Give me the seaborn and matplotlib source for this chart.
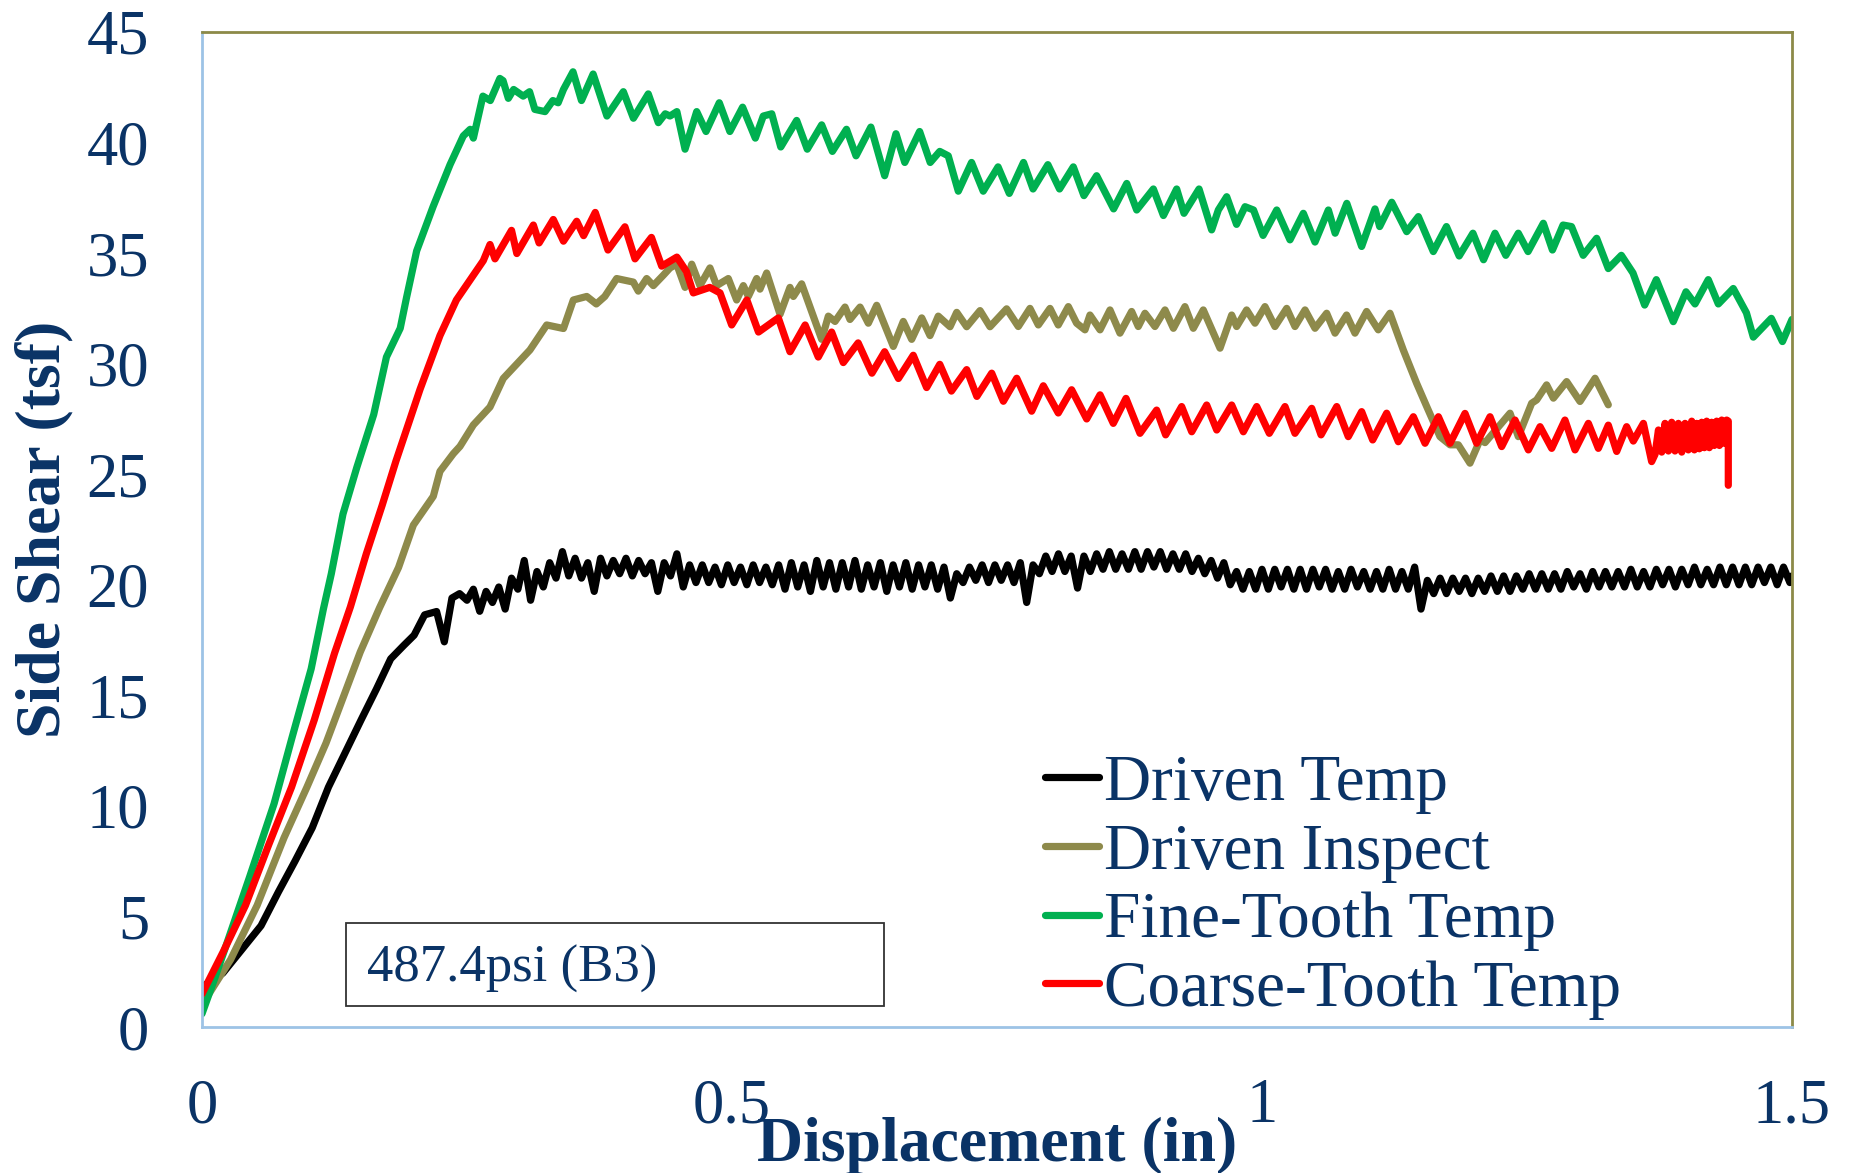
import matplotlib
matplotlib.use("Agg")
import matplotlib.pyplot as plt
import pandas as pd
import seaborn as sns
from matplotlib.patches import Rectangle

# ---------------------------------------------------------------- data
series_names = ["Driven Temp", "Driven Inspect", "Fine-Tooth Temp", "Coarse-Tooth Temp"]
series_colors = ["#000000", "#8E8A4B", "#00B050", "#FF0000"]

x_ticks = [0, 0.5, 1, 1.5]
x_tick_labels = ["0", "0.5", "1", "1.5"]
y_ticks = [0, 5, 10, 15, 20, 25, 30, 35, 40, 45]
y_tick_labels = ["0", "5", "10", "15", "20", "25", "30", "35", "40", "45"]

annotation_text = "487.4psi (B3)"

driven_temp_x = [
    0.0, 0.0197, 0.0377, 0.0557, 0.0721, 0.0875, 0.104, 0.1193, 0.1347, 0.1502,
    0.1645, 0.178, 0.1904, 0.2001, 0.21, 0.2213, 0.2286, 0.2358, 0.243,
    0.250, 0.256, 0.262, 0.268, 0.274, 0.280, 0.286, 0.292, 0.298, 0.304,
    0.310, 0.316, 0.322, 0.328, 0.334, 0.340, 0.346, 0.352, 0.358, 0.364,
    0.370, 0.376, 0.382, 0.388, 0.394, 0.400, 0.406, 0.412, 0.418, 0.424,
    0.430, 0.436, 0.442, 0.448, 0.454, 0.460, 0.466, 0.472, 0.478, 0.484,
    0.490, 0.496, 0.502, 0.508, 0.514, 0.520, 0.526, 0.532, 0.538, 0.544,
    0.550, 0.556, 0.562, 0.568, 0.574, 0.580, 0.586, 0.592, 0.598, 0.604,
    0.610, 0.616, 0.622, 0.628, 0.634, 0.640, 0.646, 0.652, 0.658, 0.664,
    0.670, 0.676, 0.682, 0.688, 0.694, 0.700, 0.706, 0.712, 0.718, 0.724,
    0.730, 0.736, 0.742, 0.748, 0.754, 0.760, 0.766, 0.772, 0.778, 0.784,
    0.790, 0.796, 0.802, 0.808, 0.814, 0.820, 0.826, 0.832, 0.838, 0.844,
    0.850, 0.856, 0.862, 0.868, 0.874, 0.880, 0.886, 0.892, 0.898, 0.904,
    0.910, 0.916, 0.922, 0.928, 0.934, 0.940, 0.946, 0.952, 0.958, 0.964,
    0.970, 0.976, 0.982, 0.988, 0.994, 1.000, 1.006, 1.012, 1.018, 1.024,
    1.030, 1.036, 1.042, 1.048, 1.054, 1.060, 1.066, 1.072, 1.078, 1.084,
    1.090, 1.096, 1.102, 1.108, 1.114, 1.120, 1.126, 1.132, 1.138, 1.144,
    1.150, 1.156, 1.162, 1.168, 1.174, 1.180, 1.186, 1.192, 1.198, 1.204,
    1.210, 1.216, 1.222, 1.228, 1.234, 1.240, 1.246, 1.252, 1.258, 1.264,
    1.270, 1.276, 1.282, 1.288, 1.294, 1.300, 1.306, 1.312, 1.318, 1.324,
    1.330, 1.336, 1.342, 1.348, 1.354, 1.360, 1.366, 1.372, 1.378, 1.384,
    1.390, 1.396, 1.402, 1.408, 1.414, 1.420, 1.426, 1.432, 1.438, 1.444,
    1.450, 1.456, 1.462, 1.468, 1.474, 1.480, 1.486, 1.492, 1.498, 1.500,
]
driven_temp_y = [
    1.8, 2.44, 3.51, 4.58, 6.11, 7.48, 9.01, 10.85, 12.37, 13.9,
    15.28, 16.65, 17.26, 17.72, 18.64, 18.79, 17.42, 19.4, 19.6,
    19.3, 19.8, 18.8, 19.7, 19.2, 19.9, 18.9, 20.3, 19.8, 21.1,
    19.3, 20.6, 19.9, 21.0, 20.3, 21.5, 20.4, 21.2, 20.3, 21.0,
    19.7, 21.2, 20.4, 21.1, 20.5, 21.2, 20.4, 21.1, 20.5, 21.0,
    19.7, 21.0, 20.4, 21.4, 19.9, 20.9, 20.1, 20.9, 20.1, 20.8,
    20.0, 20.9, 20.1, 20.8, 20.0, 20.9, 20.1, 20.8, 20.0, 20.9,
    19.8, 21.0, 19.9, 20.9, 19.7, 21.1, 19.9, 21.0, 19.8, 21.0,
    19.9, 21.1, 19.8, 20.9, 19.9, 21.0, 19.7, 20.9, 19.9, 21.0,
    19.8, 20.9, 19.9, 20.9, 19.8, 20.8, 19.4, 20.5, 20.1, 20.8,
    20.2, 20.9, 20.1, 20.9, 20.2, 20.9, 20.1, 21.0, 19.2, 20.9,
    20.5, 21.3, 20.6, 21.4, 20.6, 21.3, 19.85, 21.3, 20.6, 21.4,
    20.7, 21.5, 20.7, 21.4, 20.7, 21.5, 20.7, 21.5, 20.8, 21.5,
    20.7, 21.4, 20.7, 21.4, 20.6, 21.2, 20.5, 21.1, 20.3, 21.0,
    20.0, 20.6, 19.8, 20.6, 19.8, 20.7, 19.8, 20.7, 19.9, 20.7,
    19.8, 20.7, 19.8, 20.7, 19.9, 20.7, 19.8, 20.6, 19.8, 20.7,
    19.9, 20.6, 19.8, 20.6, 19.8, 20.7, 19.8, 20.6, 19.8, 20.8,
    18.9, 20.2, 19.6, 20.3, 19.6, 20.3, 19.7, 20.3, 19.6, 20.3,
    19.7, 20.4, 19.7, 20.4, 19.7, 20.4, 19.8, 20.5, 19.8, 20.5,
    19.8, 20.5, 19.8, 20.6, 19.9, 20.5, 19.8, 20.6, 19.9, 20.6,
    19.9, 20.6, 19.9, 20.7, 19.9, 20.6, 19.9, 20.7, 20.0, 20.7,
    19.9, 20.7, 20.0, 20.8, 20.0, 20.7, 20.0, 20.8, 20.0, 20.8,
    20.0, 20.8, 20.0, 20.8, 20.1, 20.8, 20.0, 20.8, 20.1, 20.4,
]

driven_inspect_x = [
    0.0, 0.027, 0.052, 0.0774, 0.099, 0.117, 0.1313, 0.1493, 0.1674, 0.1854,
    0.1994, 0.2182, 0.2245, 0.2371, 0.2434, 0.256, 0.2717, 0.2842, 0.30, 0.3094,
    0.3252, 0.341, 0.3503, 0.363, 0.372, 0.380, 0.3912, 0.4069, 0.4116, 0.4195,
    0.4258, 0.4352, 0.4415, 0.4478, 0.4557, 0.462, 0.4698, 0.4792, 0.4855, 0.4965,
    0.5044, 0.5107, 0.5154, 0.5233, 0.5264, 0.5327, 0.5453, 0.5547, 0.5579, 0.5657,
    0.5846, 0.5909, 0.5972, 0.6066, 0.6113, 0.6208, 0.6286, 0.6365, 0.6522, 0.6616,
    0.6695, 0.679, 0.6868, 0.6946, 0.7057, 0.712, 0.7214, 0.734, 0.7434, 0.7591,
    0.7701, 0.7811, 0.789, 0.80, 0.8078, 0.8173, 0.8251, 0.833, 0.8377, 0.8472,
    0.8566, 0.866, 0.877, 0.8833, 0.8896, 0.899, 0.9085, 0.9164, 0.9273, 0.9352,
    0.9446, 0.9604, 0.9714, 0.9761, 0.9855, 0.9934, 1.0028, 1.0122, 1.0233, 1.0311,
    1.0406, 1.05, 1.061, 1.0689, 1.0798, 1.0877, 1.0987, 1.1097, 1.1207, 1.1333,
    1.1459, 1.1554, 1.1679, 1.1774, 1.1852, 1.1962, 1.2057, 1.2104, 1.234, 1.2418,
    1.2544, 1.2591, 1.2685, 1.2749, 1.2874, 1.30, 1.3142, 1.3267,
]
driven_inspect_y = [
    1.0, 3.05, 5.5, 8.56, 10.85, 12.84, 14.67, 16.96, 18.95, 20.78,
    22.7, 24.0, 25.13, 25.93, 26.26, 27.23, 28.04, 29.33, 30.14, 30.62,
    31.75, 31.59, 32.88, 33.04, 32.7, 33.04, 33.85, 33.69, 33.28, 33.85,
    33.53, 34.0, 34.33, 34.5, 33.45, 34.5, 33.53, 34.33, 33.53, 33.85,
    32.88, 33.53, 33.04, 33.85, 33.37, 34.1, 32.23, 33.45, 33.04, 33.61,
    31.1, 32.15, 31.91, 32.56, 32.0, 32.56, 31.83, 32.64, 30.78, 31.91,
    31.1, 32.07, 31.27, 32.15, 31.67, 32.32, 31.67, 32.4, 31.67, 32.48,
    31.68, 32.5, 31.75, 32.5, 31.75, 32.58, 31.83, 31.53, 32.2, 31.53,
    32.43, 31.38, 32.36, 31.68, 32.28, 31.68, 32.43, 31.6, 32.58, 31.6,
    32.43, 30.7, 32.2, 31.68, 32.43, 31.83, 32.58, 31.68, 32.5, 31.68,
    32.43, 31.6, 32.28, 31.38, 32.2, 31.38, 32.36, 31.53, 32.28, 30.62,
    29.11, 28.06, 26.7, 26.33, 26.33, 25.5, 26.55, 26.43, 27.76, 26.7,
    28.21, 28.36, 29.04, 28.44, 29.19, 28.29, 29.34, 28.14,
]

fine_tooth_x = [
    0.0, 0.012, 0.025, 0.045, 0.068, 0.085, 0.103, 0.1145, 0.122, 0.133,
    0.146, 0.162, 0.174, 0.187, 0.193, 0.2025, 0.218, 0.234, 0.2465, 0.253,
    0.256, 0.265, 0.272, 0.281, 0.284, 0.289, 0.294, 0.303, 0.309, 0.314,
    0.3236, 0.331, 0.336, 0.341, 0.350, 0.358, 0.369, 0.382, 0.3975, 0.407,
    0.421, 0.4305, 0.437, 0.4415, 0.448, 0.4557, 0.4667,
    0.4755, 0.488, 0.498, 0.510, 0.522, 0.5295, 0.5375, 0.546, 0.561, 0.571,
    0.5846, 0.5947, 0.608, 0.617, 0.631, 0.644, 0.6547, 0.663, 0.677, 0.687,
    0.696, 0.704, 0.7135, 0.726, 0.737, 0.751, 0.7616, 0.775, 0.784, 0.798,
    0.809, 0.822, 0.832, 0.844,
    0.860, 0.8724, 0.8818, 0.8975, 0.907, 0.9195, 0.9264, 0.9406, 0.9525, 0.9588,
    0.9667, 0.976, 0.984, 0.992, 1.001, 1.0139, 1.0264, 1.039, 1.050, 1.0626,
    1.069, 1.080, 1.094, 1.1066, 1.111, 1.1224, 1.1365,
    1.1475, 1.1616, 1.174, 1.186, 1.199, 1.209, 1.2198, 1.230, 1.2418, 1.251,
    1.2654, 1.274, 1.284, 1.292, 1.303, 1.3157, 1.3267, 1.339, 1.350, 1.361,
    1.372, 1.388, 1.400, 1.4085, 1.421, 1.4305, 1.4446, 1.457, 1.4635, 1.4805,
    1.491, 1.500,
]
fine_tooth_y = [
    0.6, 2.2, 4.0, 6.8, 10.1, 13.1, 16.2, 18.9, 20.5, 23.2,
    25.3, 27.7, 30.3, 31.6, 33.0, 35.1, 37.1, 39.0, 40.3, 40.6,
    40.2, 42.1, 41.9, 42.9, 42.8, 42.0, 42.4, 42.1, 42.3, 41.5,
    41.4, 41.9, 41.8, 42.4, 43.2, 41.9, 43.1, 41.2, 42.3, 41.1,
    42.2, 40.9, 41.3, 41.2, 41.4, 39.7, 41.4,
    40.5, 41.8, 40.5, 41.6, 40.2, 41.2, 41.3, 39.8, 41.0, 39.7,
    40.8, 39.6, 40.6, 39.4, 40.7, 38.5, 40.4, 39.1, 40.5, 39.1,
    39.6, 39.4, 37.8, 39.1, 37.8, 38.9, 37.7, 39.1, 37.9, 39.0,
    37.9, 38.9, 37.6, 38.5,
    37.0, 38.15, 36.95, 37.9, 36.7, 37.9, 36.8, 37.9, 36.05, 36.95,
    37.55, 36.3, 37.1, 36.95, 35.8, 36.95, 35.6, 36.8, 35.5, 36.95,
    35.9, 37.25, 35.3, 37.0, 36.2, 37.3, 35.97,
    36.65, 35.07, 36.2, 34.87, 35.9, 34.7, 35.9, 34.9, 35.9, 35.07,
    36.35, 35.14, 36.27, 36.2, 34.9, 35.67, 34.3, 34.9, 34.1, 32.65,
    33.8, 31.9, 33.25, 32.7, 33.8, 32.7, 33.4, 32.3, 31.2, 32.05,
    31.0, 32.0,
]

coarse_tooth_x = [
    0.0, 0.02, 0.041, 0.063, 0.0845, 0.106, 0.125, 0.14, 0.155, 0.170,
    0.183, 0.2057, 0.2245, 0.240, 0.256, 0.2654, 0.2717, 0.2764, 0.292, 0.297,
    0.3126, 0.318, 0.3314, 0.341, 0.3535, 0.36, 0.371, 0.383, 0.399, 0.4085,
    0.424, 0.4337, 0.448, 0.457, 0.4635, 0.479, 0.4887, 0.4997, 0.514, 0.525,
    0.5437, 0.5547, 0.569, 0.5814, 0.594, 0.605, 0.619, 0.632, 0.644, 0.657,
    0.671, 0.6836, 0.696, 0.707, 0.7214, 0.731, 0.745, 0.756, 0.7686, 0.7827,
    0.7937, 0.8078, 0.8204, 0.8346, 0.8472, 0.8597, 0.8717, 0.8849, 0.9006, 0.9091,
    0.9242, 0.9337, 0.9478, 0.9573, 0.9714, 0.9824, 0.995, 1.0069, 1.0217, 1.0311,
    1.0469, 1.0557, 1.0705, 1.0814, 1.094, 1.1044, 1.1176, 1.1286, 1.1428, 1.1538,
    1.1664, 1.1774, 1.1915, 1.2025, 1.2151, 1.2261, 1.2387, 1.2513, 1.2623, 1.2733,
    1.2858, 1.2953, 1.3079, 1.3173, 1.3267, 1.3346, 1.344, 1.3503, 1.3598, 1.3676,
    1.3708, 1.374, 1.3771, 1.3802, 1.3834, 1.3865, 1.3896, 1.3928, 1.396, 1.3991,
    1.4022, 1.4054, 1.4079, 1.4101, 1.4126, 1.4148, 1.4173, 1.4195, 1.422, 1.4242,
    1.4267, 1.4289, 1.4315, 1.4337, 1.4359, 1.4384, 1.4399, 1.4399,
]
coarse_tooth_y = [
    1.5, 3.4, 5.5, 8.25, 10.85, 13.9, 16.9, 19.0, 21.4, 23.6,
    25.6, 28.84, 31.27, 32.88, 34.0, 34.66, 35.39, 34.74, 36.03, 34.98,
    36.27, 35.46, 36.52, 35.54, 36.44, 35.79, 36.84, 35.14, 36.19, 34.74,
    35.71, 34.41, 34.82, 34.17, 33.2, 33.45, 33.2, 31.75, 32.88, 31.43,
    32.07, 30.54, 31.75, 30.3, 31.43, 30.05, 30.94, 29.57, 30.54, 29.33,
    30.38, 28.92, 29.97, 28.76, 29.73, 28.52, 29.57, 28.3, 29.34, 27.85,
    29.0, 27.77, 28.82, 27.5, 28.59, 27.3, 28.43, 26.85, 27.9, 26.78,
    28.06, 26.92, 28.13, 27.0, 28.13, 26.92, 28.06, 26.85, 28.06, 26.85,
    27.98, 26.78, 28.06, 26.7, 27.83, 26.55, 27.76, 26.47, 27.6, 26.4,
    27.6, 26.4, 27.75, 26.4, 27.6, 26.25, 27.45, 26.1, 27.15, 26.17,
    27.45, 26.1, 27.3, 26.17, 27.22, 26.03, 27.15, 26.5, 27.3, 25.57,
    25.9, 27.0, 26.0, 27.3, 26.05, 27.35, 26.05, 27.3, 26.0, 27.3,
    26.1, 27.4, 26.1, 27.3, 26.15, 27.35, 26.2, 27.4, 26.2, 27.35,
    26.3, 27.4, 26.3, 27.45, 26.4, 27.45, 27.4, 24.5,
]

# ---------------------------------------------------------------- table
frames = []
for name, xs, ys in zip(
    series_names,
    [driven_temp_x, driven_inspect_x, fine_tooth_x, coarse_tooth_x],
    [driven_temp_y, driven_inspect_y, fine_tooth_y, coarse_tooth_y],
):
    frames.append(pd.DataFrame({"Displacement": xs, "Side Shear": ys, "Series": name}))
df = pd.concat(frames, ignore_index=True)

# ---------------------------------------------------------------- style
sns.set_style("white")
plt.rcParams["font.family"] = ["Liberation Serif", "DejaVu Serif"]
text_color = "#0A3366"

W, H = 1851, 1173
fig = plt.figure(figsize=(W / 100, H / 100), dpi=100)
L, R, T, B = 202, 1792, 32, 1027
ax = fig.add_axes([L / W, 1 - B / H, (R - L) / W, (B - T) / H])

sns.lineplot(
    data=df, x="Displacement", y="Side Shear", hue="Series",
    hue_order=series_names, palette=dict(zip(series_names, series_colors)),
    estimator=None, sort=False, linewidth=5.2, ax=ax,
)
for line in ax.lines:
    line.set_linewidth(5.2)
    line.set_solid_joinstyle("round")
    line.set_solid_capstyle("round")

ax.set_xlim(0, 1.5)
ax.set_ylim(0, 45)
ax.set_xticks(x_ticks)
ax.set_xticklabels(x_tick_labels)
ax.set_yticks(y_ticks)
ax.set_yticklabels(y_tick_labels)
ax.tick_params(axis="both", length=0, labelsize=45, labelcolor=text_color)
ax.tick_params(axis="y", pad=38)
ax.tick_params(axis="x", pad=37)

for side in ("left", "bottom"):
    ax.spines[side].set_color("#9DC3E6")
    ax.spines[side].set_linewidth(2.0)
for side in ("top", "right"):
    ax.spines[side].set_color("#8C8A48")
    ax.spines[side].set_linewidth(2.0)
    ax.spines[side].set_visible(True)

ax.set_xlabel("Displacement (in)", fontsize=46, fontweight="bold", color=text_color)
ax.set_ylabel("Side Shear (tsf)", fontsize=46, fontweight="bold", color=text_color)
ax.xaxis.set_label_coords(0.5, (B - 1146) / (B - T))
ax.xaxis.label.set_va("center")
ax.yaxis.set_label_coords((44 - L) / (R - L), 0.5)
ax.yaxis.label.set_va("center")

# legend without frame, to the lower right
handles, labels = ax.get_legend_handles_labels()
leg = ax.legend(
    handles, labels, loc="upper left",
    bbox_to_anchor=((1045 - L) / (R - L), (B - 754) / (B - T)),
    frameon=False, fontsize=47, handlelength=0.82, handletextpad=0.08,
    labelspacing=0.14, borderpad=0.0, borderaxespad=0.0,
)
for line in leg.get_lines():
    line.set_linewidth(5.2)
    line.set_solid_capstyle("round")
for txt in leg.get_texts():
    txt.set_color(text_color)

# boxed test label
ax.add_patch(Rectangle(
    ((346 - L) / (R - L), (B - 1006) / (B - T)), (884 - 346) / (R - L), (1006 - 923) / (B - T),
    transform=ax.transAxes, fill=False, edgecolor="#333333", linewidth=1.3, zorder=5,
))
ax.text((367 - L) / (R - L), (B - 969) / (B - T), annotation_text, transform=ax.transAxes,
        fontsize=38, color=text_color, va="center", ha="left", zorder=6)

fig.savefig("out.png", dpi=100)
